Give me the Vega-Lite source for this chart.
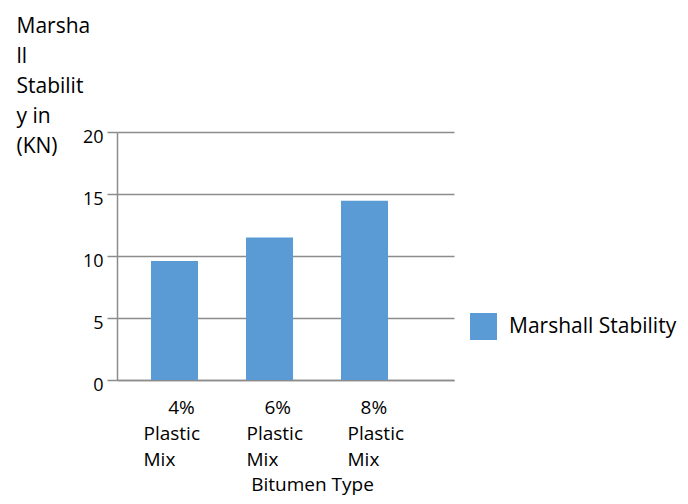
{
  "$schema": "https://vega.github.io/schema/vega-lite/v6.json",
  "autosize": "none",
  "width": 337,
  "height": 248,
  "padding": {"left": 117, "top": 132, "right": 234, "bottom": 124},
  "background": "white",
  "config": {
    "font": "Open Sans",
    "view": {"stroke": null},
    "axis": {"labelColor": "#000000", "titleColor": "#000000", "titleFontWeight": "normal"}
  },
  "data": {
    "values": [
      {"type": "4% Plastic Mix", "stability": 9.6, "series": "Marshall Stability"},
      {"type": "6% Plastic Mix", "stability": 11.5, "series": "Marshall Stability"},
      {"type": "8% Plastic Mix", "stability": 14.45, "series": "Marshall Stability"}
    ]
  },
  "mark": {"type": "bar"},
  "encoding": {
    "x": {
      "field": "type",
      "type": "nominal",
      "sort": null,
      "scale": {"paddingInner": 0.505, "paddingOuter": 0.526, "align": 0.34},
      "axis": {
        "title": "Bitumen Type",
        "titleFontSize": 19,
        "titleAnchor": "start",
        "titleAlign": "center",
        "titleX": 195,
        "titleY": 110,
        "titleBaseline": "alphabetic",
        "labelAngle": 0,
        "labelFontSize": 19,
        "labelAlign": "left",
        "labelBaseline": "top",
        "labelLineHeight": 26,
        "labelPadding": 18,
        "labelLimit": 0,
        "labelOffset": {"condition": [{"test": "datum.value == '4% Plastic Mix'", "value": -31}, {"test": "datum.value == '6% Plastic Mix'", "value": -23}], "value": -17},
        "labelExpr": "['\u200b' + (datum.value == '8% Plastic Mix' ? '\u00a0\u00a0\u2009' : datum.value == '6% Plastic Mix' ? '\u00a0\u00a0\u00a0\u2009' : '\u00a0\u00a0\u00a0\u00a0\u00a0') + split(datum.label, ' ')[0], split(datum.label, ' ')[1], split(datum.label, ' ')[2]]",
        "ticks": false,
        "domainColor": "#8c8c8c",
        "domainWidth": 1.5
      }
    },
    "y": {
      "field": "stability",
      "type": "quantitative",
      "scale": {"domain": [0, 20]},
      "axis": {
        "title": ["Marsha", "ll", "Stabilit", "y in", "(KN)"],
        "titleFontSize": 21,
        "titleLineHeight": 30,
        "titleAngle": 0,
        "titleAlign": "left",
        "titleBaseline": "top",
        "titleX": -101,
        "titleY": -117,
        "values": [0, 5, 10, 15, 20],
        "labelFontSize": 18,
        "labelOffset": 5,
        "labelPadding": 4,
        "tickSize": 10,
        "tickColor": "#8c8c8c",
        "tickWidth": 1.5,
        "domainColor": "#8c8c8c",
        "domainWidth": 1.5,
        "grid": true,
        "gridColor": "#8c8c8c",
        "gridWidth": 1.5
      }
    },
    "color": {
      "field": "series",
      "type": "nominal",
      "scale": {"range": ["#5b9bd5"]},
      "legend": {
        "title": null,
        "orient": "none",
        "legendX": 353,
        "legendY": 181,
        "padding": 0,
        "symbolType": "square",
        "symbolSize": 729,
        "symbolStrokeWidth": 0,
        "symbolOpacity": 1,
        "labelFontSize": 21,
        "labelLimit": 0,
        "labelColor": "#000000",
        "labelOffset": 12
      }
    }
  }
}
